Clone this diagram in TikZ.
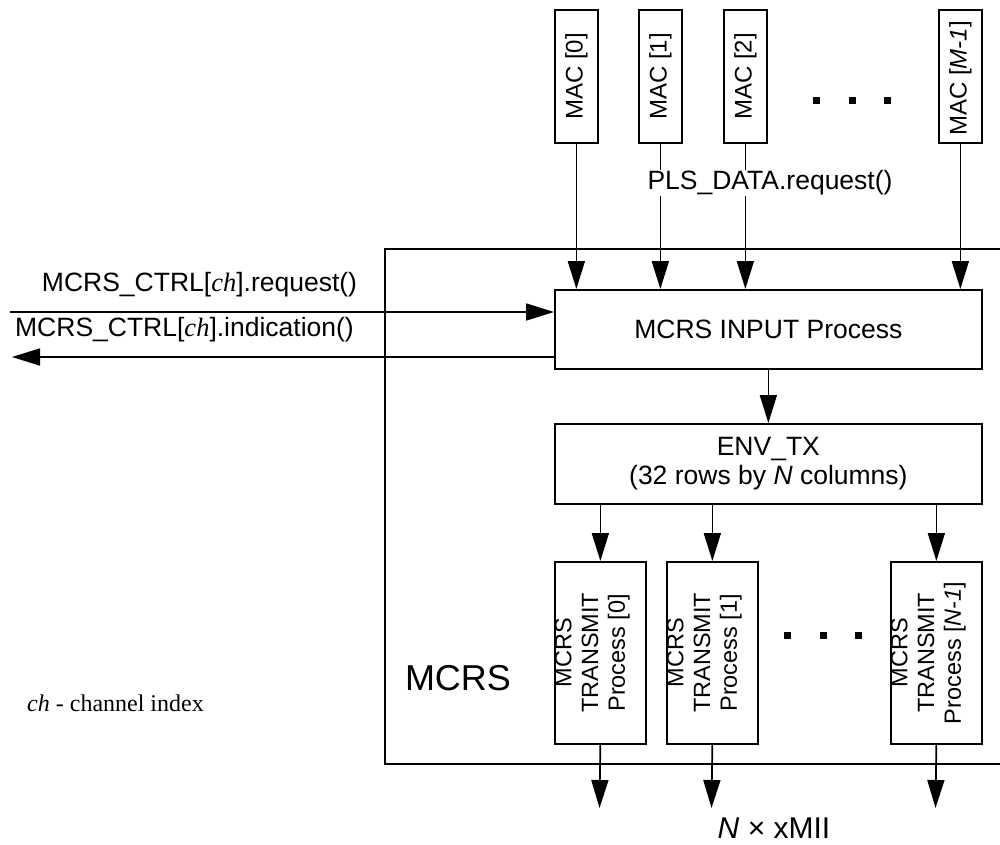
\documentclass[tikz,border=0pt]{standalone}
\usepackage{fontspec}
\setmainfont{Liberation Sans}
\newfontfamily\tms{Liberation Serif}
\usetikzlibrary{arrows.meta}
\begin{document}
\begin{tikzpicture}[x=1pt,y=-1pt,
  box/.style={draw,line width=1.7pt,inner sep=0pt,anchor=north west},
  arr/.style={line width=1.7pt,-{Triangle[length=28pt,width=17pt]}},
  lbl/.style={inner sep=0pt,font=\fontsize{26.5}{29}\selectfont,align=center},
  maclbl/.style={inner sep=0pt,rotate=90,font=\fontsize{24}{28}\selectfont},
  txlbl/.style={inner sep=0pt,rotate=90,align=center,font=\fontsize{23.5}{26.7}\selectfont},
  dotsq/.style={fill,minimum size=7pt,inner sep=0pt}]
\clip (0,0) rectangle (1000,844);
% outer MCRS box
\node[box,minimum width=650pt,minimum height=515pt] (outer) at (384,248) {};
\node[inner sep=0pt,font=\fontsize{36}{40}\selectfont] (mcrslbl) at (458,678) {MCRS};
\node[inner sep=0pt,anchor=west,font=\tms\fontsize{24}{28}\selectfont] (chlbl) at (27,703) {\textit{ch} - channel index};
% MAC boxes
\node[box,minimum width=43pt,minimum height=133pt] (m0) at (554,9) {};
\node[box,minimum width=43pt,minimum height=133pt] (m1) at (638,9) {};
\node[box,minimum width=43pt,minimum height=133pt] (m2) at (723,9) {};
\node[box,minimum width=43pt,minimum height=133pt] (mm) at (938,9) {};
\node[maclbl] (m0t) at (m0.center) {MAC [0]};
\node[maclbl] (m1t) at (m1.center) {MAC [1]};
\node[maclbl] (m2t) at (m2.center) {MAC [2]};
\node[maclbl] (mmt) at ([yshift=-2pt]mm.center) {MAC [\textit{M-1}]};
\node[dotsq] (d1) at (816,100) {};
\node[dotsq] (d2) at (852,100) {};
\node[dotsq] (d3) at (887,100) {};
% input process
\node[box,minimum width=427pt,minimum height=79pt,lbl] (in) at (554,289) {MCRS INPUT Process};
% ENV_TX
\node[box,minimum width=427pt,minimum height=80pt,lbl] (env) at (554,423) {ENV\_TX\\(32 rows by \textit{N} columns)};
% transmit boxes
\node[box,minimum width=91pt,minimum height=182pt] (t0) at (554,561) {};
\node[box,minimum width=91pt,minimum height=182pt] (t1) at (666,561) {};
\node[box,minimum width=91pt,minimum height=182pt] (tn) at (890,561) {};
\node[txlbl] (t0t) at ([xshift=-8pt]t0.center) {MCRS\\TRANSMIT\\Process [0]};
\node[txlbl] (t1t) at ([xshift=-8pt]t1.center) {MCRS\\TRANSMIT\\Process [1]};
\node[txlbl] (tnt) at ([xshift=-8pt]tn.center) {MCRS\\TRANSMIT\\Process [\textit{N-1}]};
\node[dotsq] (e1) at (787,635) {};
\node[dotsq] (e2) at (823,635) {};
\node[dotsq] (e3) at (858,635) {};
% MAC arrows
\draw[arr] (m0.south) -- (m0.south |- in.north);
\draw[arr] (m1.south) -- (m1.south |- in.north);
\draw[arr] (m2.south) -- (m2.south |- in.north);
\draw[arr] (mm.south) -- (mm.south |- in.north);
\node[lbl,fill=white,inner sep=1pt] (pls) at (770,183) {PLS\_DATA.request()};
% control arrows
\coordinate (rq) at (10,312);
\coordinate (ind) at (12,357);
\draw[arr] (rq) -- (rq -| in.west);
\draw[arr] (ind -| in.west) -- (ind);
\node[lbl] (rqt) at (199.5,285) {MCRS\_CTRL[{\tms\itshape ch}].request()};
\node[lbl] (indt) at (184.5,330) {MCRS\_CTRL[{\tms\itshape ch}].indication()};
% input -> env
\draw[arr] (in.south) -- (env.north);
% env -> transmit
\draw[arr] (t0.north |- env.south) -- (t0.north);
\draw[arr] (t1.north |- env.south) -- (t1.north);
\draw[arr] (tn.north |- env.south) -- (tn.north);
% outputs
\coordinate (o0) at (599.5,808);
\coordinate (o1) at (711.5,808);
\coordinate (on) at (935.5,808);
\draw[arr] (t0.south) -- (o0);
\draw[arr] (t1.south) -- (o1);
\draw[arr] (tn.south) -- (on);
\node[inner sep=0pt,font=\fontsize{30}{34}\selectfont] (xmii) at (774,828) {\textit{N} × xMII};
\end{tikzpicture}
\end{document}
